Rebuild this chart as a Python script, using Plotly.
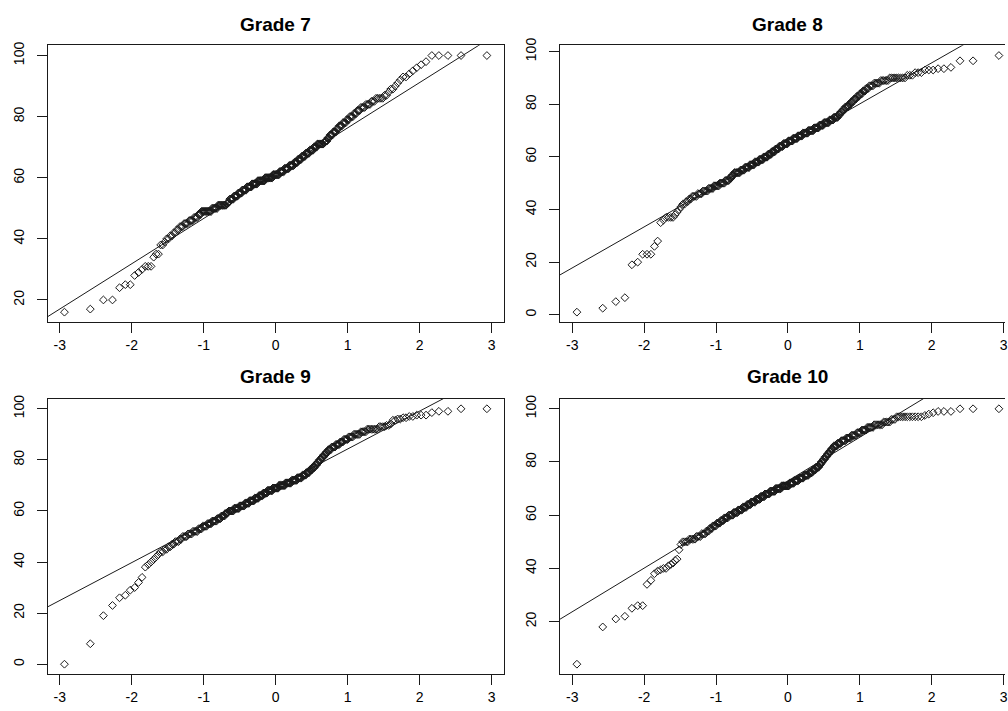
import numpy as np
import plotly.graph_objects as go
from statistics import NormalDist

# Sorted scores per grade, stored as (score, number of students with that score)
g7_scores = [16, 17, 20, 24, 25, 28, 29, 30, 31, 34, 35, 38, 39, 40, 41, 42, 43, 44, 45, 46,
             47, 48, 49, 50, 51, 51.5, 52, 53, 54, 55, 56, 57, 58, 59, 60, 61, 62, 63, 64, 65,
             66, 67, 68, 69, 70, 71, 71.5, 72, 73, 74, 75, 76, 77, 78, 79, 80, 81, 82, 83, 84,
             85, 86, 87, 88, 89, 90, 91, 92, 93, 94, 95, 96, 97, 98, 100]
g7_counts = [1, 1, 2, 1, 2, 1, 1, 1, 3, 1, 2, 2, 1, 2, 2, 2, 2, 3, 4, 4,
             4, 3, 11, 7, 11, 2, 2, 6, 6, 6, 7, 8, 9, 12, 13, 11, 8, 8, 8, 6,
             6, 6, 6, 6, 5, 9, 2, 3, 3, 4, 4, 3, 4, 4, 3, 4, 3, 3, 4, 4,
             3, 5, 2, 1, 2, 1, 1, 1, 2, 1, 1, 1, 1, 1, 5]

g8_scores = [1, 2.5, 5, 6.5, 19, 20, 23, 26, 28, 35, 36, 37, 38, 39, 40, 41, 42, 43, 44, 45,
             46, 47, 48, 49, 50, 51, 52, 53, 54, 55, 56, 57, 58, 59, 60, 61, 62, 63, 64, 65,
             66, 67, 68, 69, 70, 71, 72, 73, 74, 75, 76, 77, 78, 79, 80, 81, 82, 83, 84, 85,
             86, 87, 88, 89, 90, 91, 92, 93, 93.5, 94, 96.5, 98.5]
g8_counts = [1, 1, 1, 1, 1, 1, 3, 1, 1, 1, 1, 4, 1, 1, 1, 1, 2, 2, 2, 4,
             4, 5, 5, 6, 6, 5, 3, 3, 8, 6, 7, 7, 7, 7, 7, 6, 6, 6, 7, 8,
             8, 8, 8, 9, 9, 8, 7, 8, 6, 6, 3, 3, 3, 4, 3, 3, 3, 3, 3, 3,
             3, 4, 5, 6, 9, 3, 3, 3, 2, 1, 2, 1]

g9_scores = [0, 8, 19, 23, 26, 27, 29, 30, 32, 34, 38, 39, 40, 41, 42, 43, 44, 45, 46, 47,
             48, 49, 50, 51, 52, 53, 54, 55, 56, 57, 58, 59, 59.5, 60, 61, 62, 63, 64, 65, 66,
             67, 68, 69, 70, 71, 72, 73, 74, 75, 76, 77, 78, 79, 80, 81, 82, 83, 84, 85, 86,
             87, 88, 89, 90, 91, 92, 93, 93.5, 94, 95.5, 96, 96.5, 97, 97.5, 98.5, 99, 100]
g9_counts = [1, 1, 1, 1, 1, 1, 1, 1, 1, 1, 1, 1, 1, 1, 1, 1, 2, 2, 2, 2,
             3, 2, 4, 4, 5, 4, 5, 5, 6, 5, 5, 3, 2, 7, 8, 8, 7, 8, 7, 7,
             7, 9, 10, 11, 10, 9, 8, 6, 5, 4, 4, 3, 3, 3, 3, 3, 3, 4, 5, 5,
             4, 5, 5, 6, 5, 8, 4, 2, 1, 2, 2, 2, 2, 3, 1, 2, 2]

g10_scores = [4, 18, 21, 22, 25, 26, 34, 35.5, 38, 39, 39.5, 40, 41, 41.5, 42, 43, 43.5, 47, 49, 50,
              51, 52, 53, 54, 55, 56, 57, 58, 59, 60, 61, 62, 63, 64, 65, 66, 67, 68, 69, 70,
              71, 72, 73, 74, 75, 76, 77, 78, 79, 80, 81, 82, 83, 84, 85, 86, 87, 88, 89, 90,
              91, 92, 93, 94, 95, 96, 97, 97.5, 98, 98.5, 99, 100]
g10_counts = [1, 1, 1, 1, 1, 2, 1, 1, 1, 1, 1, 2, 1, 1, 1, 1, 1, 1, 1, 4,
              5, 4, 4, 3, 3, 4, 4, 4, 5, 6, 6, 6, 6, 6, 7, 7, 7, 8, 9, 10,
              13, 8, 8, 8, 8, 6, 5, 5, 3, 3, 3, 3, 3, 3, 3, 5, 5, 6, 6, 6,
              5, 5, 6, 7, 5, 3, 11, 1, 1, 1, 3, 3]

titles = ["Grade 7", "Grade 8", "Grade 9", "Grade 10"]
# first and third quartiles that the qqline passes through
line_q1 = [51.5, 54.05, 59.43, 61.84]
line_q3 = [71.5, 75.07, 79.43, 83.96]

x_ticks = [-3, -2, -1, 0, 1, 2, 3]
y_ticks = [[20, 40, 60, 80, 100], [0, 20, 40, 60, 80, 100],
           [0, 20, 40, 60, 80, 100], [20, 40, 60, 80, 100]]

samples = [np.repeat(g7_scores, g7_counts), np.repeat(g8_scores, g8_counts),
           np.repeat(g9_scores, g9_counts), np.repeat(g10_scores, g10_counts)]

W, H = 1008, 711
nd = NormalDist()


def theoretical_quantiles(n):
    a = 3 / 8 if n <= 10 else 0.5
    return np.array([nd.inv_cdf((i - a) / (n + 1 - 2 * a)) for i in range(1, n + 1)])


# plot-box geometry in pixels: (left, right) per column, (top, bottom) per row
col_px = [(47.7, 505.3), (561.7, 1008.0)]
col_xrange = [[-3.17, 3.17], [-3.17, 3.02]]
row_px = [(37.7, 318.0), (395.0, 674.0)]
title_y_px = [16.5, 373.0]
box_center_px = [276.5, 790.3]

ink = "#1a1a1a"
text_ink = "#000000"
font_family = "Liberation Sans, Arial, sans-serif"

fig = go.Figure()
layout = dict(
    width=W, height=H, margin=dict(l=0, r=0, t=0, b=0),
    paper_bgcolor="white", plot_bgcolor="white", showlegend=False,
    annotations=[],
)

z25, z75 = nd.inv_cdf(0.25), nd.inv_cdf(0.75)

for k in range(4):
    r, c = divmod(k, 2)
    idx = "" if k == 0 else str(k + 1)
    y = np.sort(samples[k])
    x = theoretical_quantiles(len(y))

    fig.add_trace(go.Scatter(
        x=x, y=y, mode="markers", xaxis="x" + idx, yaxis="y" + idx,
        marker=dict(symbol="diamond-open", size=6, color=ink, line=dict(width=1, color=ink)),
        hoverinfo="skip",
    ))

    slope = (line_q3[k] - line_q1[k]) / (z75 - z25)
    intercept = line_q1[k] - slope * z25
    lx = np.array([-4.0, 4.0])
    fig.add_trace(go.Scatter(
        x=lx, y=intercept + slope * lx, mode="lines", xaxis="x" + idx, yaxis="y" + idx,
        line=dict(color=ink, width=1), hoverinfo="skip",
    ))

    lo, hi = y.min(), y.max()
    pad = 0.04 * (hi - lo)
    x0, x1 = col_px[c]
    top, bot = row_px[r]

    axis_common = dict(
        showgrid=False, zeroline=False, showline=True, linecolor=ink, linewidth=1,
        ticks="outside", ticklen=10, tickwidth=1, tickcolor=ink,
        tickfont=dict(family=font_family, size=14, color=text_ink),
        ticklabeloverflow="allow",
    )
    layout["xaxis" + idx] = dict(
        axis_common, domain=[x0 / W, x1 / W], range=col_xrange[c],
        anchor="y" + idx, tickvals=x_ticks, ticktext=[str(t) for t in x_ticks],
        mirror=True,
    )
    layout["yaxis" + idx] = dict(
        axis_common, domain=[1 - bot / H, 1 - top / H], range=[lo - pad, hi + pad],
        anchor="x" + idx, tickvals=y_ticks[k], ticktext=[str(t) for t in y_ticks[k]],
        tickangle=-90, mirror=(c == 0), ticklabelstandoff=7,
    )
    layout["annotations"].append(dict(
        text="<b>" + titles[k] + "</b>", xref="paper", yref="paper",
        x=box_center_px[c] / W, y=1 - title_y_px[r] / H, xanchor="center", yanchor="middle",
        showarrow=False, font=dict(family=font_family, size=19, color=text_ink),
    ))

fig.update_layout(**layout)
fig.write_html("out.html")
